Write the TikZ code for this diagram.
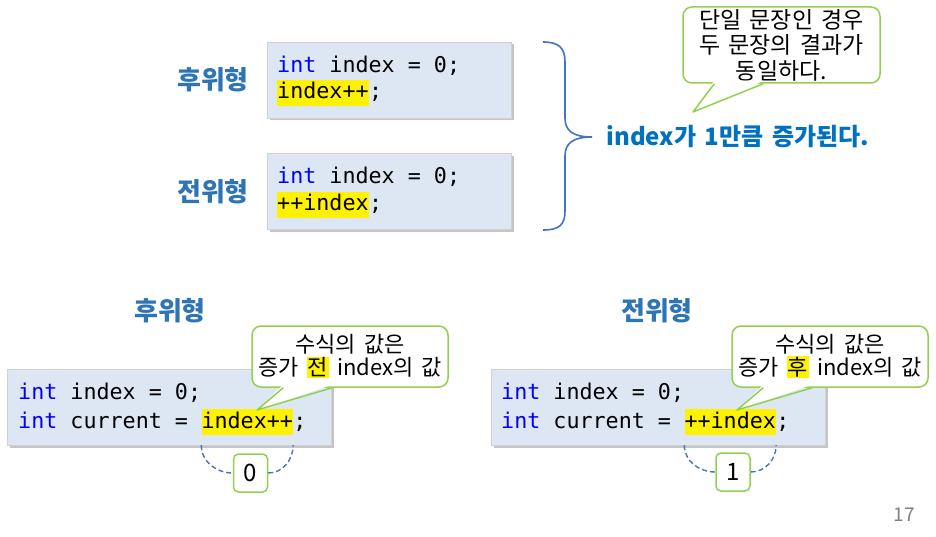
\documentclass[tikz,border=0pt]{standalone}
\usepackage{fontspec}
\setmainfont{Noto Sans CJK KR}[WordSpace=1.6]
\newfontfamily\codefont{DejaVu Sans Mono}
\usepackage{xcolor}
\usetikzlibrary{positioning,calc,shadows}
\definecolor{codefill}{HTML}{DDE7F3}
\definecolor{kwblue}{HTML}{0000FF}
\definecolor{lblblue}{HTML}{2E75B6}
\definecolor{msgblue}{HTML}{0070C0}
\definecolor{callgreen}{HTML}{92D050}
\definecolor{braceblue}{HTML}{4472C4}
\newcommand{\kw}[1]{\textcolor{kwblue}{#1}}
\newcommand{\hlk}[1]{{\setlength{\fboxsep}{1pt}\colorbox{yellow}{#1}}}
\tikzset{
  codebox/.style={draw=black!18,fill=codefill,minimum height=76pt,drop shadow={shadow xshift=2.5pt,shadow yshift=-2.5pt,fill=black!45,opacity=.5}},
  codeln/.style={font=\codefont\fontsize{21.7}{26}\selectfont,inner xsep=0pt,inner ysep=2pt,text height=17pt,text depth=5pt},
  hl/.style={codeln,fill=yellow},
  lbl/.style={font=\bfseries\fontsize{26}{30}\selectfont,text=lblblue},
  callbox/.style={draw=callgreen,line width=1.5pt,fill=white,rounded corners=9pt,align=center,font=\fontsize{23}{25.5}\selectfont,inner sep=0pt},
  numbox/.style={draw=callgreen,line width=1.5pt,fill=white,rounded corners=5pt,minimum width=34pt,minimum height=38pt,font=\fontsize{24}{28}\selectfont},
  brc/.style={draw=braceblue,line width=1.6pt},
  dashc/.style={draw=braceblue,line width=1.4pt,dash pattern=on 5pt off 3pt},
}
\begin{document}
\begin{tikzpicture}[x=1pt,y=-1pt]
\useasboundingbox[fill=white] (0,0) rectangle (936,537);
% top: two forms side by side
\node[lbl] (post) at (213,80) {후위형};
\node[lbl] (pre) at (213,192) {전위형};
\node[codebox,minimum width=244pt] (codeA) at (389,80) {};
\node[codebox,minimum width=244pt] (codeB) at (389,191.5) {};
\node[codeln,anchor=west] (a1) at (277,67) {\kw{int} index = 0;};
\node[hl,anchor=west] (hlA) at (277,93) {index++};
\node[codeln,right=0pt of hlA] (a2) {;};
\node[codeln,anchor=west] (b1) at (277,178) {\kw{int} index = 0;};
\node[hl,anchor=west] (hlB) at (277,205) {++index};
\node[codeln,right=0pt of hlB] (b2) {;};
\draw[brc] (543,42) .. controls (559,42) and (565,48) .. (565,62) -- (565,118)
  .. controls (565,130) and (572,137) .. (592,137)
  .. controls (572,137) and (565,144) .. (565,156) -- (565,211)
  .. controls (565,225) and (559,230) .. (543,230);
\node[anchor=west,font=\bfseries\fontsize{24}{30}\selectfont,text=msgblue] (msg) at (603,137) {index가 1만큼 증가된다.};
\node[callbox,minimum width=197pt,minimum height=76pt] (cTop) at (781.5,45) {단일 문장인 경우\\두 문장의 결과가\\동일하다.};
\coordinate (tipcTop) at (693,112);

% bottom: value of the expression
\node[lbl] (post2) at (170,311) {후위형};
\node[lbl] (pre2) at (657,311) {전위형};
\node[codebox,minimum width=324pt] (codeL) at (169.5,407) {};
\node[codebox,minimum width=334pt] (codeR) at (658,407) {};
\node[codeln,anchor=west] (l1) at (18,393) {\kw{int} index = 0;};
\node[codeln,anchor=west] (l2) at (18,422) {\kw{int} current =\hphantom{x}};
\node[hl,right=0pt of l2] (hlL) {index++};
\node[codeln,right=0pt of hlL] (l3) {;};
\node[codeln,anchor=west] (r1) at (501,393) {\kw{int} index = 0;};
\node[codeln,anchor=west] (r2) at (501,422) {\kw{int} current =\hphantom{x}};
\node[hl,right=0pt of r2] (hlR) {++index};
\node[codeln,right=0pt of hlR] (r3) {;};
\node[callbox,minimum width=196pt,minimum height=61pt,font=\fontsize{22}{25}\selectfont] (cL) at (350,356.5) {수식의 값은\\[-2pt]증가 \hlk{전} index의 값};
\node[callbox,minimum width=196pt,minimum height=61pt,font=\fontsize{22}{25}\selectfont] (cR) at (830,356.5) {수식의 값은\\[-2pt]증가 \hlk{후} index의 값};
\coordinate (tipcL) at (257,410);
\coordinate (tipcR) at (737,410);
\foreach \c in {cTop,cL,cR}{
  \fill[white] ($(\c.south west)+(32,-3)$) -- (tip\c) -- ($(\c.south west)+(81,-3)$) -- cycle;
  \draw[callgreen,line width=1.5pt,line join=round] ($(\c.south west)+(32,0)$) -- (tip\c) -- ($(\c.south west)+(81,0)$);
}
\node[numbox] (zero) at (250.5,473) {0};
\node[numbox] (one) at (733,472) {1};
\draw[dashc] (hlL.south west |- codeL.south) to[out=-90,in=180] (zero.west);
\draw[dashc] (zero.east) to[out=0,in=-90] (hlL.south east |- codeL.south);
\draw[dashc] (hlR.south west |- codeR.south) to[out=-90,in=180] (one.west);
\draw[dashc] (one.east) to[out=0,in=-90] (hlR.south east |- codeR.south);
\node[font=\fontsize{19}{22}\selectfont,text=black!50] (pg) at (904,515) {17};
\end{tikzpicture}
\end{document}
